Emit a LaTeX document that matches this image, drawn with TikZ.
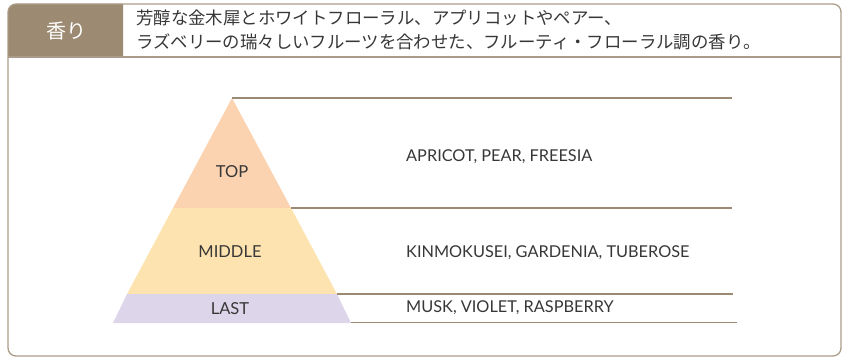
\documentclass[tikz,border=0pt]{standalone}
\usepackage{fontspec}
\setmainfont{Lato}
\newfontfamily\jp{Noto Sans CJK JP}
\definecolor{brn}{RGB}{156,138,114}
\definecolor{frame}{RGB}{170,156,136}
\definecolor{topc}{RGB}{251,211,176}
\definecolor{midc}{RGB}{253,227,176}
\definecolor{lastc}{RGB}{221,213,234}
\definecolor{txt}{RGB}{55,55,55}
\tikzset{
  sep/.style={draw=brn, line width=1.2pt},
  lvl/.style={font=\fontsize{16.5}{20}\selectfont, text=txt, inner sep=0pt},
  note/.style={font=\fontsize{16.3}{20}\selectfont, text=txt, anchor=west, inner sep=0pt},
}
\begin{document}
\begin{tikzpicture}[x=1pt,y=-1pt]
\useasboundingbox (0,0) rectangle (843,361);
% header brown cell
\fill[brn] (8,57) -- (8,12) arc[start angle=180,end angle=270,radius=8] -- (123,4) -- (123,57) -- cycle;
\node[font=\jp\fontsize{20}{24}\selectfont, text=white, inner sep=0pt] (hd) at (66,31) {香り};
\node[font=\jp\fontsize{17.4}{24}\selectfont, text=txt, anchor=north west, align=left, inner sep=0pt] (desc) at (136,10)
  {芳醇な金木犀とホワイトフローラル、アプリコットやペアー、\\ラズベリーの瑞々しいフルーツを合わせた、フルーティ・フローラル調の香り。};
% frame
\draw[frame, line width=1.3pt, rounded corners=8pt] (8,4) rectangle (841,356);
\draw[frame, line width=1.3pt] (8,57) -- (841,57);
% pyramid
\coordinate (apex) at (232,98);
\coordinate (tl) at (173,208);
\coordinate (tr) at (291,208);
\coordinate (ml) at (127,294);
\coordinate (mr) at (337,294);
\coordinate (bl) at (113,323);
\coordinate (br) at (351,323);
\fill[topc] (apex) -- (tr) -- (tl) -- cycle;
\fill[midc] (tl) -- (tr) -- (mr) -- (ml) -- cycle;
\fill[lastc] (ml) -- (mr) -- (br) -- (bl) -- cycle;
\node[lvl] (top) at (232,172) {TOP};
\node[lvl] (mid) at (230,252) {MIDDLE};
\node[lvl] (last) at (230,309) {LAST};
% lines
\coordinate (e1) at (732,98);
\coordinate (e2) at (732,208);
\coordinate (e3) at (733,294);
\coordinate (s4) at (351,322.5);
\coordinate (e4) at (737,322.5);
\draw[sep] (apex) -- (e1);
\draw[sep] (tr) -- (e2);
\draw[sep] (mr) -- (e3);
\draw[sep] (s4) -- (e4);
\node[note] (n1) at (406,157) {APRICOT, PEAR, FREESIA};
\node[note] (n2) at (406,253) {KINMOKUSEI, GARDENIA, TUBEROSE};
\node[note] (n3) at (406,308) {MUSK, VIOLET, RASPBERRY};
\end{tikzpicture}
\end{document}
